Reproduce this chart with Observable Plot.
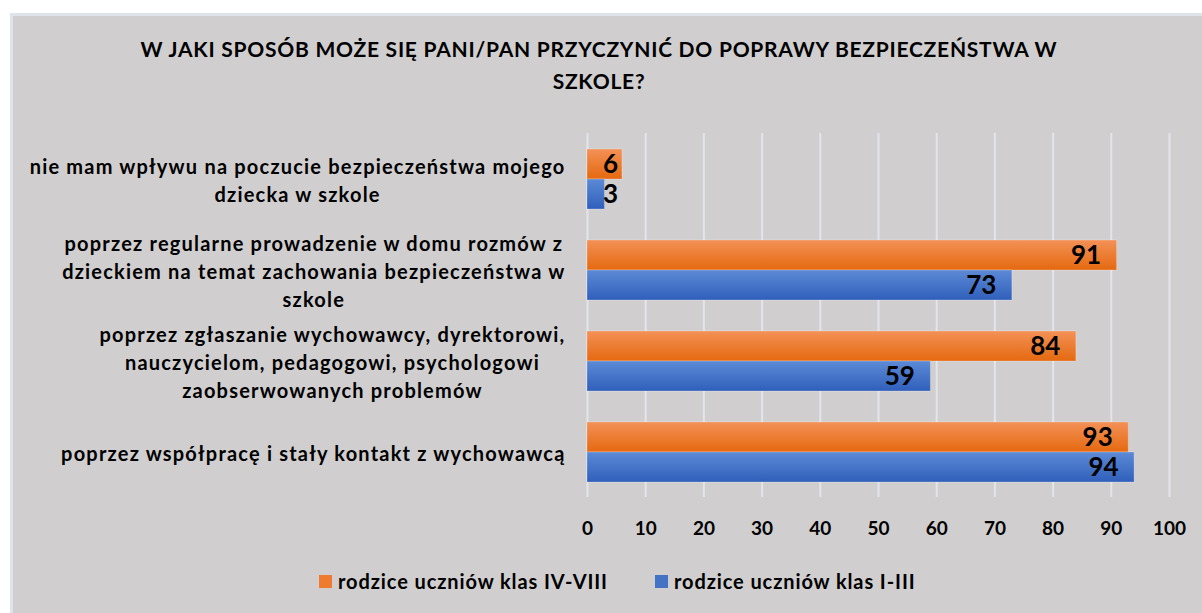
<!DOCTYPE html>
<html>
<head>
<meta charset="utf-8">
<script src="https://cdn.jsdelivr.net/npm/d3@7"></script>
<script src="https://cdn.jsdelivr.net/npm/@observablehq/plot@0.6"></script>
<style>
  html, body { margin: 0; padding: 0; background: #ffffff; width: 1202px; height: 613px; overflow: hidden; }
  body { position: relative; font-family: Lato, "Open Sans", sans-serif; }
  #panel { position: absolute; left: 10px; top: 13px; right: 0; bottom: 0; background: #d0cecf; border-left: 3px solid #dfe3ea; border-top: 3px solid #dfe3ea; }
  #title { position: absolute; left: 0; top: 33px; width: 1198px; text-align: center; font-weight: bold; font-size: 21px; letter-spacing: 0.75px; line-height: 32px; color: #000; }
  #chart { position: absolute; left: 0; top: 100px; }
  #legend { position: absolute; left: 319px; top: 569px; display: flex; align-items: center; font-weight: bold; font-size: 20px; letter-spacing: 0.9px; color: #000; }
  .sw { width: 13px; height: 13px; margin-right: 6px; }
  .item { display: flex; align-items: center; }
</style>
</head>
<body>
<div id="panel"></div>
<div id="title"></div>
<div id="chart"></div>
<div id="legend"></div>
<script>
const titleLines = ["W JAKI SPOSÓB MOŻE SIĘ PANI/PAN PRZYCZYNIĆ DO POPRAWY BEZPIECZEŃSTWA W", "SZKOLE?"];
const categories = [
  "nie mam wpływu na poczucie bezpieczeństwa mojego\ndziecka w szkole",
  "poprzez regularne prowadzenie w domu rozmów z\ndzieckiem na temat zachowania bezpieczeństwa w\nszkole",
  "poprzez zgłaszanie wychowawcy, dyrektorowi,\nnauczycielom, pedagogowi, psychologowi\nzaobserwowanych problemów",
  "poprzez współpracę i stały kontakt z wychowawcą"
];
const seriesNames = ["rodzice uczniów klas IV-VIII", "rodzice uczniów klas I-III"];
const valuesIVVIII = [6, 91, 84, 93];
const valuesIIII = [3, 73, 59, 94];
const xTicks = [0, 10, 20, 30, 40, 50, 60, 70, 80, 90, 100];
const seriesColors = ["#ee7b30", "#4472c4"];
const gradientStops = [["#f39157", "#e5690f"], ["#5d8ad6", "#2f5fbb"]];

const data = [];
categories.forEach((c, i) => {
  data.push({category: c, series: seriesNames[0], value: valuesIVVIII[i]});
  data.push({category: c, series: seriesNames[1], value: valuesIIII[i]});
});

document.getElementById("title").innerHTML = titleLines.join("<br>");

const fills = ["url(#gradA)", "url(#gradB)"];

const plot = Plot.plot({
  width: 1202,
  height: 470,
  marginLeft: 587,
  marginRight: 33,
  marginTop: 32,
  marginBottom: 73,
  style: {background: "transparent", fontFamily: "Lato, 'Open Sans', sans-serif", color: "#000"},
  x: {domain: [0, 100], ticks: xTicks, axis: null},
  y: {domain: seriesNames, paddingInner: 0, paddingOuter: 0.47, axis: null},
  fy: {domain: categories, padding: 0, axis: null},
  color: {domain: seriesNames, range: fills},
  marks: [
    Plot.gridX(xTicks, {stroke: "#e4e5ea", strokeOpacity: 1, strokeWidth: 2}),
    Plot.barX(data, {fy: "category", y: "series", x: "value", fill: "series", stroke: "#ffffff", strokeOpacity: 0.25, strokeWidth: 1}),
    Plot.text(data, {fy: "category", y: "series", x: d => Math.max(d.value, 8), text: d => String(d.value), textAnchor: "end", dx: -16, fontSize: 26, fontWeight: "bold", fill: "#000"}),
    Plot.axisX(xTicks, {tickSize: 0, tickPadding: 24, fontSize: 19, fontWeight: "bold", label: null}),
    Plot.axisFy({anchor: "left", tickSize: 0, tickPadding: 22, fontSize: 20, fontWeight: "bold", lineHeight: 1.42, label: null})
  ]
});

document.getElementById("chart").appendChild(plot);

// gradients
const svg = d3.select(plot);
const defs = svg.insert("defs", ":first-child");
["gradA", "gradB"].forEach((id, i) => {
  const g = defs.append("linearGradient").attr("id", id).attr("x1", 0).attr("y1", 0).attr("x2", 0).attr("y2", 1);
  g.append("stop").attr("offset", "0%").attr("stop-color", gradientStops[i][0]);
  g.append("stop").attr("offset", "100%").attr("stop-color", gradientStops[i][1]);
});

// widen category labels a little and center each line within its right-aligned block
svg.selectAll("g[aria-label='fy-axis tick label'] text").each(function() {
  this.setAttribute("letter-spacing", "1.2");
  const tspans = Array.from(this.querySelectorAll("tspan"));
  if (tspans.length < 2) return;
  const widths = tspans.map(t => t.getComputedTextLength());
  const maxW = Math.max(...widths);
  tspans.forEach((t, i) => {
    const x0 = parseFloat(t.getAttribute("x")) || 0;
    t.setAttribute("x", x0 - (maxW - widths[i]) / 2);
  });
});

// legend
const legend = document.getElementById("legend");
seriesNames.forEach((s, i) => {
  const item = document.createElement("div");
  item.className = "item";
  item.style.marginRight = i === 0 ? "47px" : "0";
  const sw = document.createElement("div");
  sw.className = "sw";
  sw.style.background = seriesColors[i];
  const t = document.createElement("span");
  t.textContent = s;
  item.appendChild(sw);
  item.appendChild(t);
  legend.appendChild(item);
});
</script>
</body>
</html>
